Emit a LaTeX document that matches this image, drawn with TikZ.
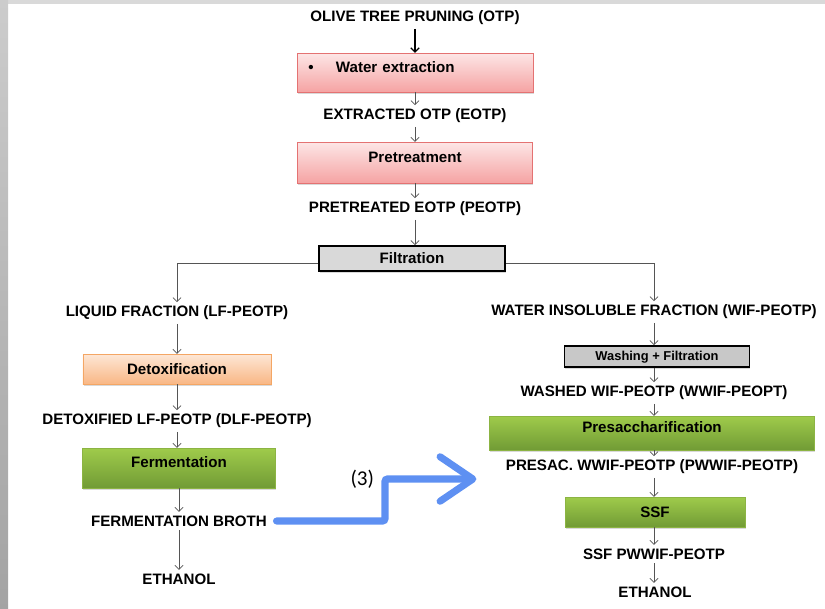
\documentclass[tikz,border=0pt]{standalone}
\usepackage{fontspec}
\setmainfont{Liberation Sans}
\newfontfamily\stepnumfont{Carlito}
\usepackage{tikz}
\usetikzlibrary{arrows.meta,shadows}

\definecolor{pinktop}{HTML}{FDE6E6}
\definecolor{pinkbottom}{HTML}{F5A3A3}
\definecolor{pinkline}{HTML}{E47272}
\definecolor{orangetop}{HTML}{FDE7D6}
\definecolor{orangebottom}{HTML}{F9B785}
\definecolor{orangeline}{HTML}{F4A664}
\definecolor{greentop}{HTML}{9FCB4B}
\definecolor{greenbottom}{HTML}{719B35}
\definecolor{greenline}{HTML}{8CB443}
\definecolor{filtgray}{HTML}{D9D9D9}
\definecolor{washgray}{HTML}{C8C8C8}
\definecolor{arrowgray}{HTML}{555555}
\definecolor{recycleblue}{HTML}{5E90F2}

\begin{document}
\begin{tikzpicture}[x=0.03cm,y=-0.03cm,
	>={Straight Barb[length=3.5pt,width=7pt]},
	every node/.style={font=\bfseries\fontsize{12.9}{15}\selectfont},
	product/.style={inner sep=3pt},
	process/.style={inner sep=2pt, text height=9pt,
		drop shadow={opacity=0.3,shadow xshift=0.6pt,shadow yshift=-1.8pt}},
	raised/.style={text depth=9.5pt},
	pinkbox/.style={process, draw=pinkline, top color=pinktop, bottom color=pinkbottom},
	orangebox/.style={process, draw=orangeline, top color=orangetop, bottom color=orangebottom},
	greenbox/.style={process, draw=greenline, top color=greentop, bottom color=greenbottom},
	graybox/.style={process, draw=black, line width=1.6pt},
	flow/.style={->, color=arrowgray, line width=0.6pt},
	recycle/.style={color=recycleblue, line width=6pt, line cap=round, rounded corners=2pt,
		-{Straight Barb[length=28pt,width=38pt,round]}}]

	% slide frame
	\useasboundingbox (0,0) rectangle (825,608);
	\fill[filtgray] (0,0) rectangle (825,4);
	\shade[top color=black!20, bottom color=black!36] (0,0) rectangle (8,608);

	% main line
	\node[product] (otp) at (415,18) {OLIVE TREE PRUNING (OTP)};
	\node[pinkbox,raised,minimum width=7.08cm,minimum height=1.17cm,text width=182pt,inner xsep=9pt,align=left] (water) at (415,72.5) {\textbullet\hspace{19pt}Water extraction};
	\node[product] (eotp) at (415,116) {EXTRACTED OTP (EOTP)};
	\node[pinkbox,raised,minimum width=7.05cm,minimum height=1.23cm] (pretreat) at (415,162.5) {Pretreatment};
	\node[product] (peotp) at (415,209) {PRETREATED EOTP (PEOTP)};
	\node[graybox,fill=filtgray,minimum width=5.58cm,minimum height=0.75cm] (filt) at (412,258.5) {Filtration};

	% liquid fraction
	\node[product] (lf) at (177,313) {LIQUID FRACTION (LF-PEOTP)};
	\node[orangebox,minimum width=5.64cm,minimum height=0.9cm] (detox) at (177,369) {Detoxification};
	\node[product] (dlf) at (177,421) {DETOXIFIED LF-PEOTP (DLF-PEOTP)};
	\node[greenbox,raised,minimum width=5.79cm,minimum height=1.2cm] (ferment) at (179,468) {Fermentation};
	\node[product] (broth) at (179,521) {FERMENTATION BROTH};
	\node[product] (ethleft) at (179,579) {ETHANOL};

	% water insoluble fraction
	\node[product] (wif) at (654,312) {WATER INSOLUBLE FRACTION (WIF-PEOTP)};
	\node[graybox,fill=washgray,minimum width=5.55cm,minimum height=0.63cm,font=\bfseries\fontsize{11}{13}\selectfont] (wash) at (657,356.5) {Washing + Filtration};
	\node[product] (wwif) at (654,393) {WASHED WIF-PEOTP (WWIF-PEOPT)};
	\node[greenbox,raised,minimum width=9.75cm,minimum height=1.02cm] (presac) at (652,433) {Presaccharification};
	\node[product] (pwwif) at (652,467) {PRESAC. WWIF-PEOTP (PWWIF-PEOTP)};
	\node[greenbox,minimum width=5.4cm,minimum height=0.9cm] (ssf) at (655,512) {SSF};
	\node[product] (ssfp) at (654,554) {SSF PWWIF-PEOTP};
	\node[product] (ethright) at (655,592) {ETHANOL};

	\path [flow,color=black,line width=1pt](otp) edge (otp |- water.north);
	\path [flow](water) edge (eotp);
	\path [flow](eotp) edge (pretreat);
	\path [flow](pretreat) edge (peotp);
	\path [flow](peotp) edge (peotp |- filt.north);
	\draw [flow]([yshift=-4pt]filt.west) -| (lf);
	\draw [flow]([yshift=-4pt]filt.east) -| (wif);

	\path [flow](lf) edge (detox);
	\path [flow](detox) edge (dlf);
	\path [flow](dlf) edge (dlf |- ferment.north);
	\path [flow](ferment) edge (broth);
	\path [flow](broth) edge (ethleft);

	\path [flow](wif) edge (wif |- wash.north);
	\path [flow](wash.south -| wif) edge (wwif);
	\path [flow](wwif) edge (wwif |- presac.north);
	\path [flow](presac.south -| wwif) edge (wwif |- pwwif.north);
	\path [flow](wwif |- pwwif.south) edge (wwif |- ssf.north);
	\path [flow](ssf.south -| wwif) edge (wwif |- ssfp.north);
	\path [flow](ssfp) edge (ssfp |- ethright.north);

	% broth recycled to the SSF line
	\coordinate (kink) at (385,479);
	\draw [recycle,shorten <=5pt,shorten >=22pt](broth.east) -| (kink)
		node[left=3pt,text=black,font=\stepnumfont\fontsize{18}{21}\selectfont] {(3)} -- (kink -| pwwif.west);
\end{tikzpicture}
\end{document}
